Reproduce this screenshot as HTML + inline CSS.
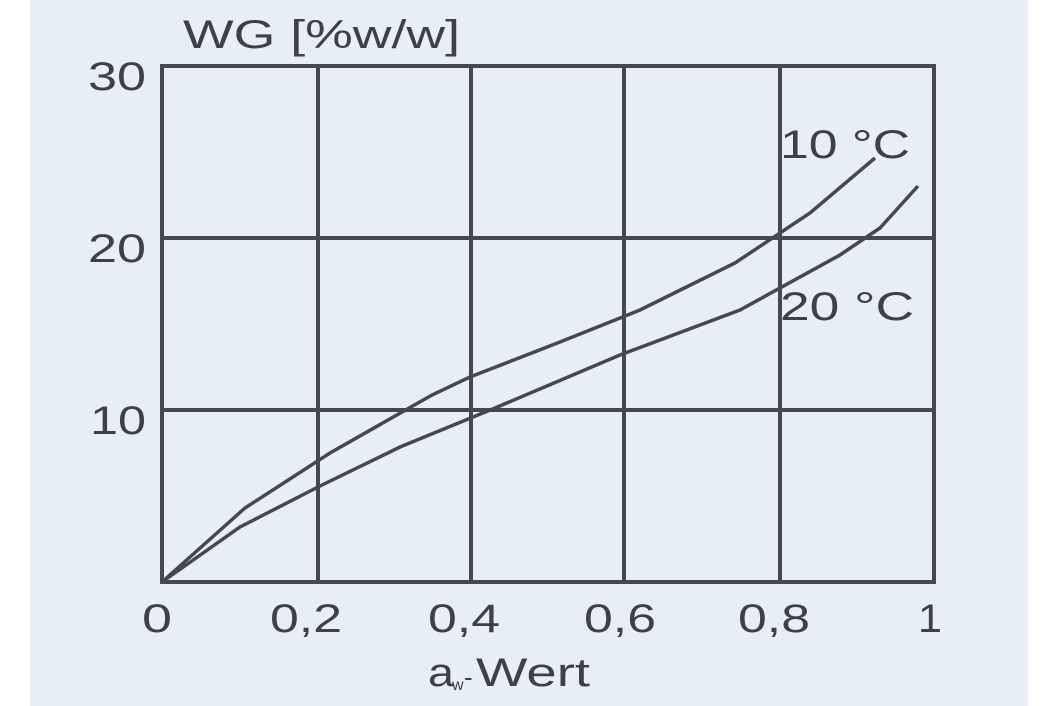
<!DOCTYPE html>
<html><head><meta charset="utf-8"><style>
html,body{margin:0;padding:0;background:#fff;}
svg{display:block;}
text{font-family:"Liberation Sans",sans-serif;fill:#3d4147;}
</style></head><body>
<svg width="1059" height="706" viewBox="0 0 1059 706">
<rect x="30" y="0" width="998" height="706" fill="#e8eef7"/>
<g stroke="#45494f" stroke-width="4" fill="none">
<rect x="162" y="66" width="772" height="516"/>
<line x1="318" y1="66" x2="318" y2="582"/>
<line x1="471" y1="66" x2="471" y2="582"/>
<line x1="624" y1="66" x2="624" y2="582"/>
<line x1="780" y1="66" x2="780" y2="582"/>
<line x1="162" y1="238" x2="934" y2="238"/>
<line x1="162" y1="410" x2="934" y2="410"/>
<polyline stroke-width="3.5" points="162,582 245,508 330,453 432,395 470,377 560,342 640,310 735,263 810,213 875,158"/>
<polyline stroke-width="3.5" points="162,582 240,527 320,486 400,447 495,408 620,355 740,310 840,255 880,228 918,186"/>
</g>
<g font-size="40">
<text x="183" y="48" textLength="277" lengthAdjust="spacingAndGlyphs">WG [%w/w]</text>
<text x="88" y="90" textLength="58" lengthAdjust="spacingAndGlyphs">30</text>
<text x="88" y="262" textLength="58" lengthAdjust="spacingAndGlyphs">20</text>
<text x="90" y="434" textLength="56" lengthAdjust="spacingAndGlyphs">10</text>
<text x="142" y="632" textLength="30" lengthAdjust="spacingAndGlyphs">0</text>
<text x="270" y="632" textLength="72" lengthAdjust="spacingAndGlyphs">0,2</text>
<text x="428" y="632" textLength="72" lengthAdjust="spacingAndGlyphs">0,4</text>
<text x="584" y="632" textLength="72" lengthAdjust="spacingAndGlyphs">0,6</text>
<text x="738" y="632" textLength="72" lengthAdjust="spacingAndGlyphs">0,8</text>
<text x="918" y="632" textLength="24" lengthAdjust="spacingAndGlyphs">1</text>
<text x="780" y="158" textLength="130" lengthAdjust="spacingAndGlyphs">10 °C</text>
<text x="780" y="320" textLength="134" lengthAdjust="spacingAndGlyphs">20 °C</text>
<text x="428" y="686" textLength="26" lengthAdjust="spacingAndGlyphs">a</text>
<text x="452" y="690" font-size="16">w</text>
<text x="464" y="686" font-size="26">-</text>
<text x="476" y="686" textLength="114" lengthAdjust="spacingAndGlyphs">Wert</text>
</g>
</svg>
</body></html>
